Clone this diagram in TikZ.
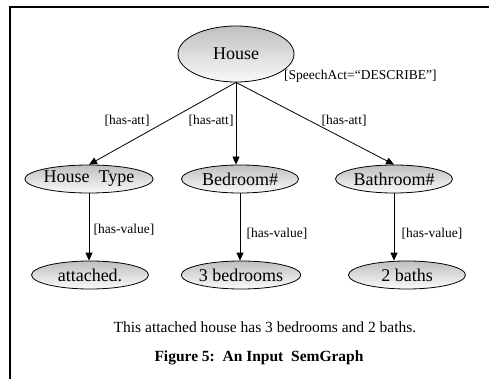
\documentclass[tikz,border=0pt]{standalone}
\usepackage{fontspec}
\setmainfont{Liberation Serif}
\usetikzlibrary{shapes.geometric,arrows.meta}
\begin{document}
\begin{tikzpicture}[x=1pt,y=-1pt,
  ell/.style={ellipse,draw,line width=0.8pt,top color=black!25,bottom color=black!2,inner sep=0pt,font=\fontsize{18}{18}\selectfont},
  big/.style={minimum width=116pt,minimum height=56pt},
  small/.style={minimum width=117pt,minimum height=28pt},
  lab/.style={font=\fontsize{13.5}{14}\selectfont,inner sep=0pt},
  link/.style={line width=0.8pt,-{Triangle[length=8pt,width=7pt]}}]
\useasboundingbox (0,0) rectangle (489,379);
\draw[line width=2pt] (9.5,379) -- (9.5,7.5) -- (489,7.5);
\node[ell,big] (house) at (236,54) {House};
\node[ell,small] (htype) at (89,179) {House\ \ Type};
\node[ell,small] (bed) at (240,179) {Bedroom\#};
\node[ell,small] (bath) at (394,179) {Bathroom\#};
\node[ell,small] (att) at (90,275) {attached.};
\node[ell,small] (bedv) at (241,275) {3 bedrooms};
\node[ell,small] (bathv) at (407,275) {2 baths};
\node[lab,anchor=west] (sa) at (284,76) {[SpeechAct=“DESCRIBE”]};
\node[lab] (l1) at (127,121) {[has-att]};
\node[lab] (l2) at (211,121) {[has-att]};
\node[lab] (l3) at (344,121) {[has-att]};
\node[lab] (v1) at (124,230) {[has-value]};
\node[lab] (v2) at (277,234) {[has-value]};
\node[lab] (v3) at (432,234) {[has-value]};
\draw[link] (house.south) -- (htype.north);
\draw[link] (house.south) -- (house.south |- bed.north);
\draw[link] (house.south) -- (bath.north);
\draw[link] (htype.south) -- (htype.south |- att.north);
\draw[link] (bed.south) -- (bed.south |- bedv.north);
\draw[link] (bath.south) -- (bath.south |- bathv.north);
\node[font=\fontsize{15.5}{16}\selectfont] (sent) at (265,327) {This attached house has 3 bedrooms and 2 baths.};
\node[font=\bfseries\fontsize{15.5}{16}\selectfont] (cap) at (259,358) {Figure 5:\ \ An Input\ \ SemGraph};
\end{tikzpicture}
\end{document}
